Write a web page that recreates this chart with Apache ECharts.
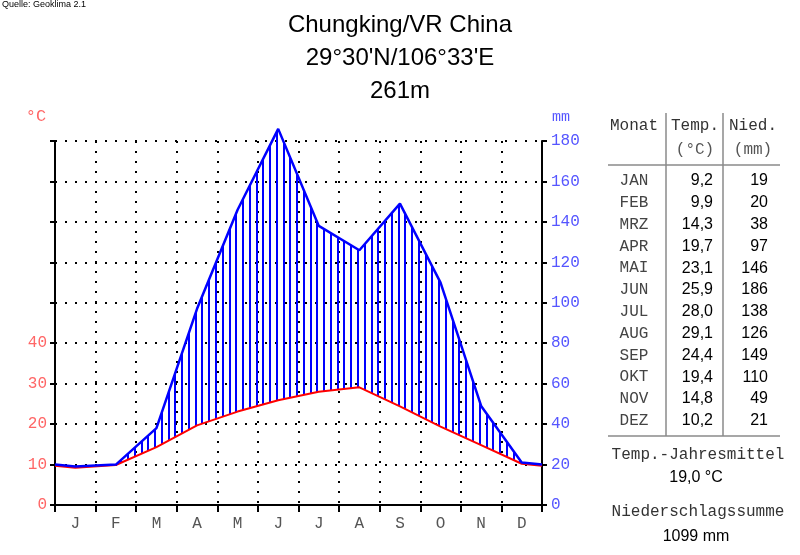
<!DOCTYPE html>
<html>
<head>
<meta charset="utf-8">
<script src="https://cdn.jsdelivr.net/npm/echarts@6/dist/echarts.min.js"></script>
<style>html,body{margin:0;padding:0;background:#fff;}#c{width:800px;height:555px;}</style>
</head>
<body>
<div id="c"></div>
<script>
// ---- data ----
const monthLetters = ['J','F','M','A','M','J','J','A','S','O','N','D'];
const monthNames = ['JAN','FEB','MRZ','APR','MAI','JUN','JUL','AUG','SEP','OKT','NOV','DEZ'];
const temps = [9.2, 9.9, 14.3, 19.7, 23.1, 25.9, 28.0, 29.1, 24.4, 19.4, 14.8, 10.2];
const precip = [19, 20, 38, 97, 146, 186, 138, 126, 149, 110, 49, 21];
const tempTicks = [0, 10, 20, 30, 40];
const precipTicks = [0, 20, 40, 60, 80, 100, 120, 140, 160, 180];
const titleLines = ['Chungking/VR China', "29°30'N/106°33'E", '261m'];
const source = 'Quelle: Geoklima 2.1';

// Walter-Lieth scaling: 10 °C = 20 mm; curves wrap to the diagram edges
const edgeT = (temps[0] + temps[11]) / 2;
const edgeP = (precip[0] + precip[11]) / 2;
const xs = [0].concat(temps.map((_, i) => i + 0.5), [12]);
const tAll = [edgeT].concat(temps, [edgeT]);
const pAll = [edgeP].concat(precip, [edgeP]);
const tempData = xs.map((x, i) => [x, tAll[i]]);
const precipData = xs.map((x, i) => [x, pAll[i]]);
const tempMmData = xs.map((x, i) => [x, tAll[i] * 2]);

const meanT = temps.reduce((a, b) => a + b, 0) / temps.length;
const sumP = precip.reduce((a, b) => a + b, 0);
const fmt = v => v.toFixed(1).replace('.', ',');

const hatchPerMonth = 6;

const mono = 'Liberation Mono, Courier New, monospace';
const sans = 'Liberation Sans, Arial, sans-serif';
const dotted = { color: '#000', width: 2, type: [2, 8] };

const graphics = [];
graphics.push({ type: 'text', x: 2, y: 5, style: { text: source, font: '9px ' + sans, fill: '#000', align: 'left', verticalAlign: 'middle' } });
titleLines.forEach((t, i) => {
  graphics.push({ type: 'text', x: 400, y: 25 + i * 33, style: { text: t, font: '24px ' + sans, fill: '#000', align: 'center', verticalAlign: 'middle' } });
});
graphics.push({ type: 'text', x: 36, y: 116, style: { text: '°C', font: '17px ' + mono, fill: '#ff6666', align: 'center', verticalAlign: 'middle' } });
graphics.push({ type: 'text', x: 561, y: 117, style: { text: 'mm', font: '15px ' + mono, fill: '#5555ff', align: 'center', verticalAlign: 'middle' } });

// table
const lineC = '#8a8a8a';
graphics.push({ type: 'line', shape: { x1: 666, y1: 113, x2: 666, y2: 436 }, style: { stroke: lineC, lineWidth: 1.5 } });
graphics.push({ type: 'line', shape: { x1: 723, y1: 113, x2: 723, y2: 436 }, style: { stroke: lineC, lineWidth: 1.5 } });
graphics.push({ type: 'line', shape: { x1: 608, y1: 165, x2: 780, y2: 165 }, style: { stroke: lineC, lineWidth: 1.5 } });
graphics.push({ type: 'line', shape: { x1: 608, y1: 436, x2: 780, y2: 436 }, style: { stroke: lineC, lineWidth: 1.5 } });
const hdr = (t, x, y, c) => graphics.push({ type: 'text', x: x, y: y, style: { text: t, font: '16px ' + mono, fill: c || '#333', align: 'center', verticalAlign: 'middle' } });
hdr('Monat', 634, 126);
hdr('Temp.', 695, 126);
hdr('Nied.', 753, 126);
hdr('(°C)', 695, 150, '#555');
hdr('(mm)', 753, 150, '#555');
monthNames.forEach((m, i) => {
  const y = 181 + i * 21.8;
  graphics.push({ type: 'text', x: 634, y: y, style: { text: m, font: '16px ' + mono, fill: '#444', align: 'center', verticalAlign: 'middle' } });
  graphics.push({ type: 'text', x: 713, y: y, style: { text: fmt(temps[i]), font: '16px ' + sans, fill: '#000', align: 'right', verticalAlign: 'middle' } });
  graphics.push({ type: 'text', x: 768, y: y, style: { text: String(precip[i]), font: '16px ' + sans, fill: '#000', align: 'right', verticalAlign: 'middle' } });
});
graphics.push({ type: 'text', x: 698, y: 455, style: { text: 'Temp.-Jahresmittel', font: '16px ' + mono, fill: '#333', align: 'center', verticalAlign: 'middle' } });
graphics.push({ type: 'text', x: 696, y: 478, style: { text: fmt(meanT) + ' °C', font: '16px ' + sans, fill: '#000', align: 'center', verticalAlign: 'middle' } });
graphics.push({ type: 'text', x: 698, y: 512, style: { text: 'Niederschlagssumme', font: '16px ' + mono, fill: '#333', align: 'center', verticalAlign: 'middle' } });
graphics.push({ type: 'text', x: 696, y: 537, style: { text: sumP + ' mm', font: '16px ' + sans, fill: '#000', align: 'center', verticalAlign: 'middle' } });

const chart = echarts.init(document.getElementById('c'), null, { renderer: 'canvas' });
chart.setOption({
  animation: false,
  backgroundColor: '#fff',
  grid: { left: 55, right: 258, top: 141, bottom: 50, containLabel: false },
  xAxis: [
    {
      type: 'category', data: monthLetters, boundaryGap: true, position: 'bottom',
      axisLine: { show: true, lineStyle: { color: '#000', width: 2 } },
      axisTick: { show: true, length: 7, interval: 0, lineStyle: { color: '#000', width: 2 } },
      axisLabel: { interval: 0, margin: 11, color: '#555', fontSize: 16, fontFamily: mono },
      splitLine: { show: true, interval: 0, lineStyle: dotted }
    },
    { type: 'value', min: 0, max: 12, show: false }
  ],
  yAxis: [
    {
      type: 'value', min: 0, max: 90, interval: 10, position: 'left',
      axisLine: { show: true, lineStyle: { color: '#000', width: 2 } },
      axisTick: { show: true, length: 5, lineStyle: { color: '#000', width: 2 } },
      axisLabel: { margin: 8, color: '#ff6666', fontSize: 16, fontFamily: mono,
        formatter: v => (tempTicks.indexOf(v) >= 0 ? String(v) : '') },
      splitLine: { show: true, lineStyle: dotted }
    },
    {
      type: 'value', min: 0, max: 180, interval: 20, position: 'right',
      axisLine: { show: true, lineStyle: { color: '#000', width: 2 } },
      axisTick: { show: true, length: 5, lineStyle: { color: '#000', width: 2 } },
      axisLabel: { margin: 9, color: '#5555ff', fontSize: 16, fontFamily: mono,
        formatter: v => (precipTicks.indexOf(v) >= 0 ? String(v) : '') },
      splitLine: { show: false }
    }
  ],
  series: [
    {
      type: 'custom', xAxisIndex: 1, yAxisIndex: 1, data: [0], clip: false, silent: true, z: 2,
      renderItem: function (params, api) {
        const top = precipData.map(d => api.coord(d));
        const bottom = tempMmData.map(d => api.coord(d)).reverse();
        const y0 = api.coord([0, 0])[1];
        const y1 = api.coord([0, 200])[1];
        const children = [];
        const n = 12 * hatchPerMonth;
        for (let k = 0; k < n; k++) {
          const x = Math.round(api.coord([(k + 0.8) / hatchPerMonth, 0])[0]);
          children.push({ type: 'line', shape: { x1: x, y1: y0, x2: x, y2: y1 },
            style: { stroke: '#0000ff', lineWidth: 2 } });
        }
        return {
          type: 'group',
          children: children,
          clipPath: { type: 'polygon', shape: { points: top.concat(bottom) } }
        };
      }
    },
    { type: 'line', xAxisIndex: 1, yAxisIndex: 0, data: tempData, symbol: 'none', clip: false,
      lineStyle: { color: '#ff0000', width: 2 }, z: 3 },
    { type: 'line', xAxisIndex: 1, yAxisIndex: 1, data: precipData, symbol: 'none', clip: false,
      lineStyle: { color: '#0000ff', width: 2.5 }, z: 4 }
  ],
  graphic: graphics
});
</script>
</body>
</html>
